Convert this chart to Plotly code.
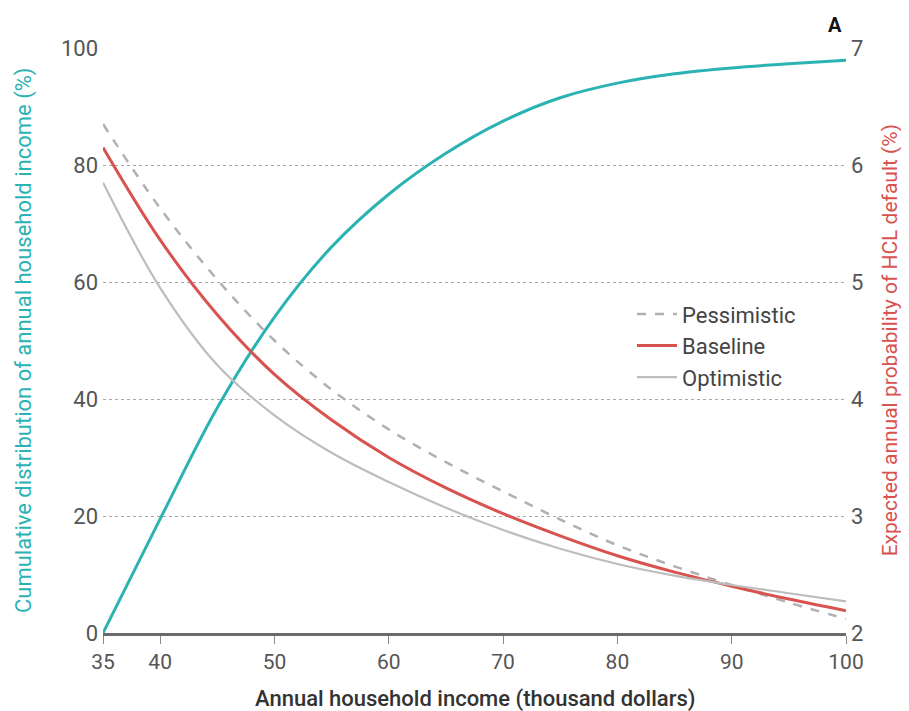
import plotly.graph_objects as go

# Data
income = [35, 40, 45, 50, 55, 60, 65, 70, 75, 80, 85, 90, 95, 100]

cdf_values = [0, 19.5, 38.5, 54, 66, 75, 82, 87.5, 91.5, 94, 95.6, 96.6, 97.3, 97.9]

pessimistic = [6.35, 5.63, 5.02, 4.50, 4.08, 3.74, 3.46, 3.21, 2.97, 2.75, 2.57, 2.41, 2.26, 2.12]
baseline = [6.15, 5.36, 4.72, 4.21, 3.82, 3.50, 3.24, 3.02, 2.83, 2.66, 2.52, 2.40, 2.29, 2.19]
optimistic = [5.85, 4.95, 4.29, 3.86, 3.54, 3.29, 3.07, 2.88, 2.72, 2.59, 2.49, 2.41, 2.34, 2.27]

x_ticks = [35, 40, 50, 60, 70, 80, 90, 100]
left_ticks = [0, 20, 40, 60, 80, 100]
right_ticks = [2, 3, 4, 5, 6, 7]

TEAL = "#2bb3b3"
RED = "#d8524f"
GRAY_OPT = "#bdbdbd"
GRAY_PES = "#b0b0b0"
FONT = "Roboto, Liberation Sans, sans-serif"

fig = go.Figure()

fig.add_trace(go.Scatter(x=income, y=cdf_values, mode="lines", yaxis="y",
                         line=dict(color=TEAL, width=3, shape="spline", smoothing=1),
                         showlegend=False, name="Cumulative"))
fig.add_trace(go.Scatter(x=income, y=pessimistic, mode="lines", yaxis="y2",
                         line=dict(color=GRAY_PES, width=2.5, dash="dash", shape="spline"),
                         name="Pessimistic"))
fig.add_trace(go.Scatter(x=income, y=baseline, mode="lines", yaxis="y2",
                         line=dict(color=RED, width=3, shape="spline"),
                         name="Baseline"))
fig.add_trace(go.Scatter(x=income, y=optimistic, mode="lines", yaxis="y2",
                         line=dict(color=GRAY_OPT, width=2.2, shape="spline"),
                         name="Optimistic"))

fig.update_layout(
    width=901, height=703,
    margin=dict(l=95, r=63, t=40, b=78),
    paper_bgcolor="white", plot_bgcolor="white",
    font=dict(family=FONT, color="#555555", size=21),
    xaxis=dict(range=[35, 100], tickvals=x_ticks, showgrid=False, zeroline=False,
               showline=True, linecolor="#6b6b6b", linewidth=3,
               ticks="outside", ticklen=8, tickcolor="#888888", tickwidth=1,
               tickfont=dict(size=21, color="#555555")),
    yaxis=dict(range=[0, 100], tickvals=left_ticks, showgrid=True,
               gridcolor="#a8a8a8", griddash="dot", gridwidth=1.2,
               zeroline=False, showline=False, ticks="", ticklabelstandoff=4,
               tickfont=dict(size=22, color="#555555")),
    yaxis2=dict(range=[2, 7], tickvals=right_ticks, overlaying="y", side="right",
                showgrid=False, zeroline=False, showline=False, ticks="",
                ticklabelstandoff=4,
                tickfont=dict(size=22, color="#555555")),
    legend=dict(x=0.712, y=0.581, xanchor="left", yanchor="top",
                bgcolor="rgba(0,0,0,0)", font=dict(size=22, color="#444444"),
                tracegroupgap=0, itemwidth=40),
    showlegend=True,
)

fig.add_annotation(text="Cumulative distribution of annual household income (%)",
                   xref="paper", yref="paper", x=-0.107, y=0.5, xanchor="center",
                   yanchor="middle", textangle=-90, showarrow=False,
                   font=dict(size=22, color=TEAL, family=FONT))
fig.add_annotation(text="Expected annual probability of HCL default (%)",
                   xref="paper", yref="paper", x=1.059, y=0.5, xanchor="center",
                   yanchor="middle", textangle=-90, showarrow=False,
                   font=dict(size=21, color=RED, family=FONT))
fig.add_annotation(text="Annual household income (thousand dollars)",
                   xref="paper", yref="paper", x=0.5, y=-0.112, xanchor="center",
                   yanchor="middle", showarrow=False,
                   font=dict(size=22, color="#333333", family=FONT, weight=500))
fig.add_annotation(text="<b>A</b>", xref="paper", yref="paper", x=0.985, y=1.04,
                   xanchor="center", yanchor="middle", showarrow=False,
                   font=dict(size=20, color="#111111", family=FONT))

fig.write_html("out.html")
